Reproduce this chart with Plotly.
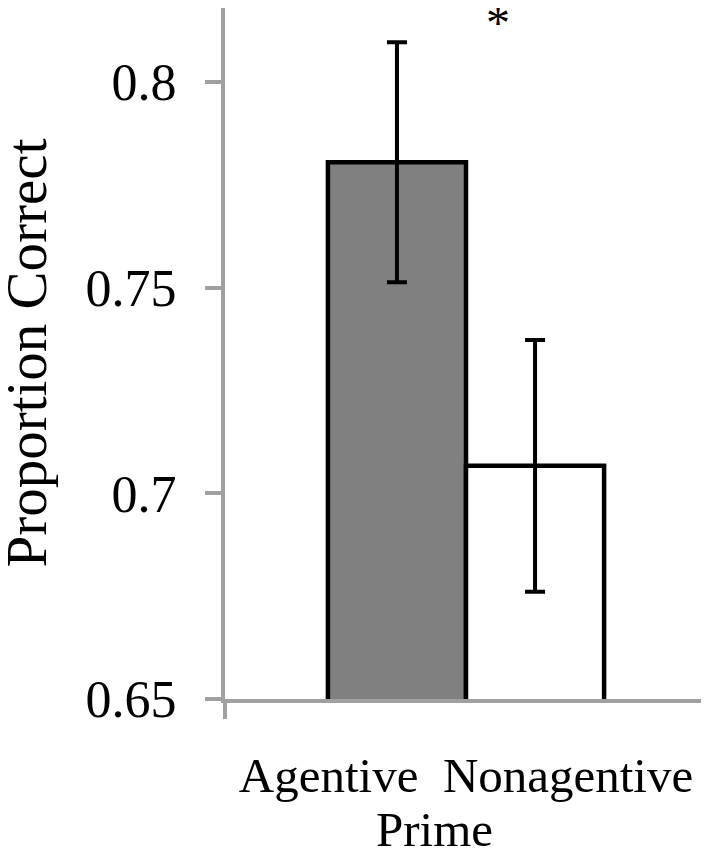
import plotly.graph_objects as go

# ---- data ----
group_label = "Prime"
series_names = ["Agentive", "Nonagentive"]
means = [0.7805, 0.7067]
errors = [0.0292, 0.0306]
fill_colors = ["#808080", "#ffffff"]
y_ticks = [0.65, 0.70, 0.75, 0.80]
y_range = [0.65, 0.818]
y_title = "Proportion Correct"
sig_mark = "*"

FONT = "Liberation Serif, Times New Roman, serif"
AXIS_GRAY = "#a0a0a0"

category = "\u00a0\u00a0".join(series_names)

fig = go.Figure()
for name, m, e, c in zip(series_names, means, errors, fill_colors):
    fig.add_trace(go.Bar(
        x=[category], y=[m], name=name,
        marker=dict(color=c, line=dict(color="black", width=4.5)),
        error_y=dict(type="data", array=[e], visible=True,
                     color="black", thickness=4, width=10),
        showlegend=False,
    ))

L = 217
fig.update_layout(
    width=701, height=841,
    margin=dict(l=L, r=2, t=0, b=150),
    paper_bgcolor="white", plot_bgcolor="white",
    barmode="group", bargap=0.427, bargroupgap=0,
    font=dict(family=FONT, color="black"),
)

fig.update_xaxes(
    type="category", tickson="boundaries",
    showline=True, linecolor=AXIS_GRAY, linewidth=4,
    ticks="outside", ticklen=16, tickwidth=4, tickcolor=AXIS_GRAY,
    showgrid=False, zeroline=False,
    tickfont=dict(family=FONT, size=49, color="black"),
    ticklabelstandoff=30,
)
fig.update_yaxes(
    range=y_range, tickvals=y_ticks,
    showline=True, linecolor=AXIS_GRAY, linewidth=4,
    ticks="outside", ticklen=16, tickwidth=4, tickcolor=AXIS_GRAY,
    showgrid=False, zeroline=False,
    tickfont=dict(family=FONT, size=52, color="black"),
    ticklabelstandoff=18,
)

# y-axis title
fig.add_annotation(
    text=y_title, xref="paper", yref="paper", x=0, y=0.5,
    xanchor="center", yanchor="middle", xshift=-199, textangle=-90,
    showarrow=False, font=dict(family=FONT, size=57, color="black"),
)
# group title below category labels
fig.add_annotation(
    text=group_label, xref="paper", yref="paper", x=0, y=0,
    xanchor="center", yanchor="top", xshift=434 - 225, yshift=-101,
    showarrow=False, font=dict(family=FONT, size=49, color="black"),
)
# significance marker
fig.add_annotation(
    text=sig_mark, xref="paper", yref="paper", x=(498 - 225) / 482, y=1,
    xanchor="center", yanchor="top", yshift=14,
    showarrow=False, font=dict(family=FONT, size=48, color="black"),
)

fig.write_html("out.html")
